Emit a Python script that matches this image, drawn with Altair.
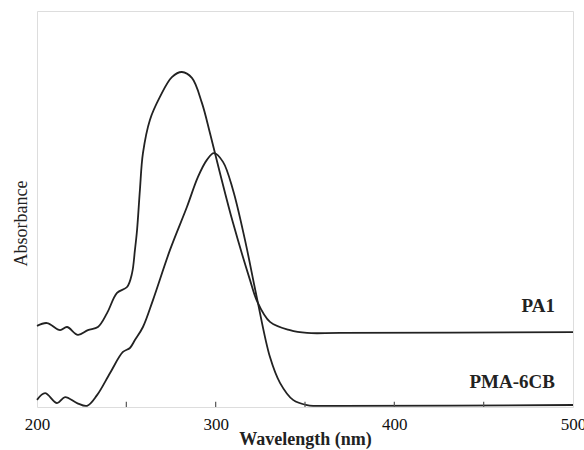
import altair as alt
import pandas as pd

# PA1 spectrum (wavelength nm, absorbance arb. units)
pa1_wl = [200.0, 205.6, 212.9, 216.8, 222.9, 228.5, 234.1, 239.2, 244.8, 250.4,
          253.2, 254.8, 256.0, 257.6, 259.3, 263.2, 268.8, 275.5, 281.1, 286.7,
          292.3, 296.8, 302.4, 309.7, 319.2, 323.1, 330.4, 341.6, 351.1, 369.6, 500.0]
pa1_abs = [0.205, 0.212, 0.194, 0.202, 0.182, 0.194, 0.202, 0.237, 0.288, 0.303,
           0.338, 0.396, 0.447, 0.548, 0.641, 0.725, 0.783, 0.833, 0.846, 0.831,
           0.768, 0.692, 0.591, 0.465, 0.321, 0.268, 0.215, 0.194, 0.187, 0.187, 0.189]

# PMA-6CB spectrum
pma_wl = [200.0, 204.5, 211.2, 215.7, 222.4, 228.0, 233.6, 240.9, 248.1, 252.0,
          254.8, 259.3, 264.9, 274.4, 283.9, 290.1, 295.1, 299.0, 304.1, 309.7,
          316.4, 323.1, 330.4, 336.0, 343.3, 351.1, 369.6, 500.0]
pma_abs = [0.018, 0.035, 0.010, 0.025, 0.010, 0.003, 0.030, 0.086, 0.139, 0.149,
           0.169, 0.202, 0.270, 0.396, 0.505, 0.581, 0.624, 0.641, 0.619, 0.548,
           0.422, 0.275, 0.126, 0.061, 0.018, 0.005, 0.003, 0.005]

series_names = ["PA1", "PMA-6CB"]
label_y = [0.255, 0.063]
tick_values = [200, 300, 400, 500]
minor_ticks = [250, 300, 350, 400, 450]

rows = []
for w, a in zip(pa1_wl, pa1_abs):
    rows.append({"wl": w, "A": a, "series": "PA1"})
for w, a in zip(pma_wl, pma_abs):
    rows.append({"wl": w, "A": a, "series": "PMA-6CB"})
df = pd.DataFrame(rows)

labels_df = pd.DataFrame({"wl": [500, 500], "A": label_y, "name": series_names})
ticks_df = pd.DataFrame({"wl": minor_ticks, "y0": [0.0] * len(minor_ticks),
                         "y1": [0.013] * len(minor_ticks)})

xscale = alt.Scale(domain=[200, 500], nice=False, zero=False)
yscale = alt.Scale(domain=[0, 1], nice=False)

lines = alt.Chart(df).mark_line(color="#222222", strokeWidth=1.8, interpolate="catmull-rom").encode(
    x=alt.X("wl:Q", scale=xscale,
            axis=alt.Axis(values=tick_values, title="Wavelength (nm)", domain=False, ticks=False,
                          grid=False, labelPadding=9, titleY=23, titleBaseline="top",
                          labelFontSize=17,
                          labelFont="Liberation Serif", labelFontWeight="normal", labelColor="#111",
                          titleFont="Liberation Serif", titleFontSize=18, titleFontWeight="bold",
                          titleColor="#222", labelFlush=False)),
    y=alt.Y("A:Q", scale=yscale,
            axis=alt.Axis(labels=False, ticks=False, domain=False, grid=False, title="Absorbance",
                          titlePadding=7, titleY=212, titleFont="Liberation Serif", titleFontSize=18,
                          titleFontWeight="normal", titleColor="#222")),
    detail="series:N",
)

ticks = alt.Chart(ticks_df).mark_rule(color="#555555", strokeWidth=1.2).encode(
    x=alt.X("wl:Q", scale=xscale),
    y=alt.Y("y0:Q", scale=yscale),
    y2="y1:Q",
)

texts = alt.Chart(labels_df).mark_text(align="right", baseline="middle", dx=-18,
                                       font="Liberation Serif", fontSize=19, fontWeight="bold",
                                       color="#222222").encode(
    x=alt.X("wl:Q", scale=xscale),
    y=alt.Y("A:Q", scale=yscale),
    text="name:N",
)

chart = alt.layer(lines, ticks, texts).properties(
    width=536, height=396,
    autosize=alt.AutoSizeParams(type="none"),
    padding={"left": 37, "top": 11, "right": 11, "bottom": 43},
).configure_view(stroke="#555555", strokeWidth=1.5).configure(background="white")

chart.save("out.html", embed_options={"renderer": "svg", "actions": False})
